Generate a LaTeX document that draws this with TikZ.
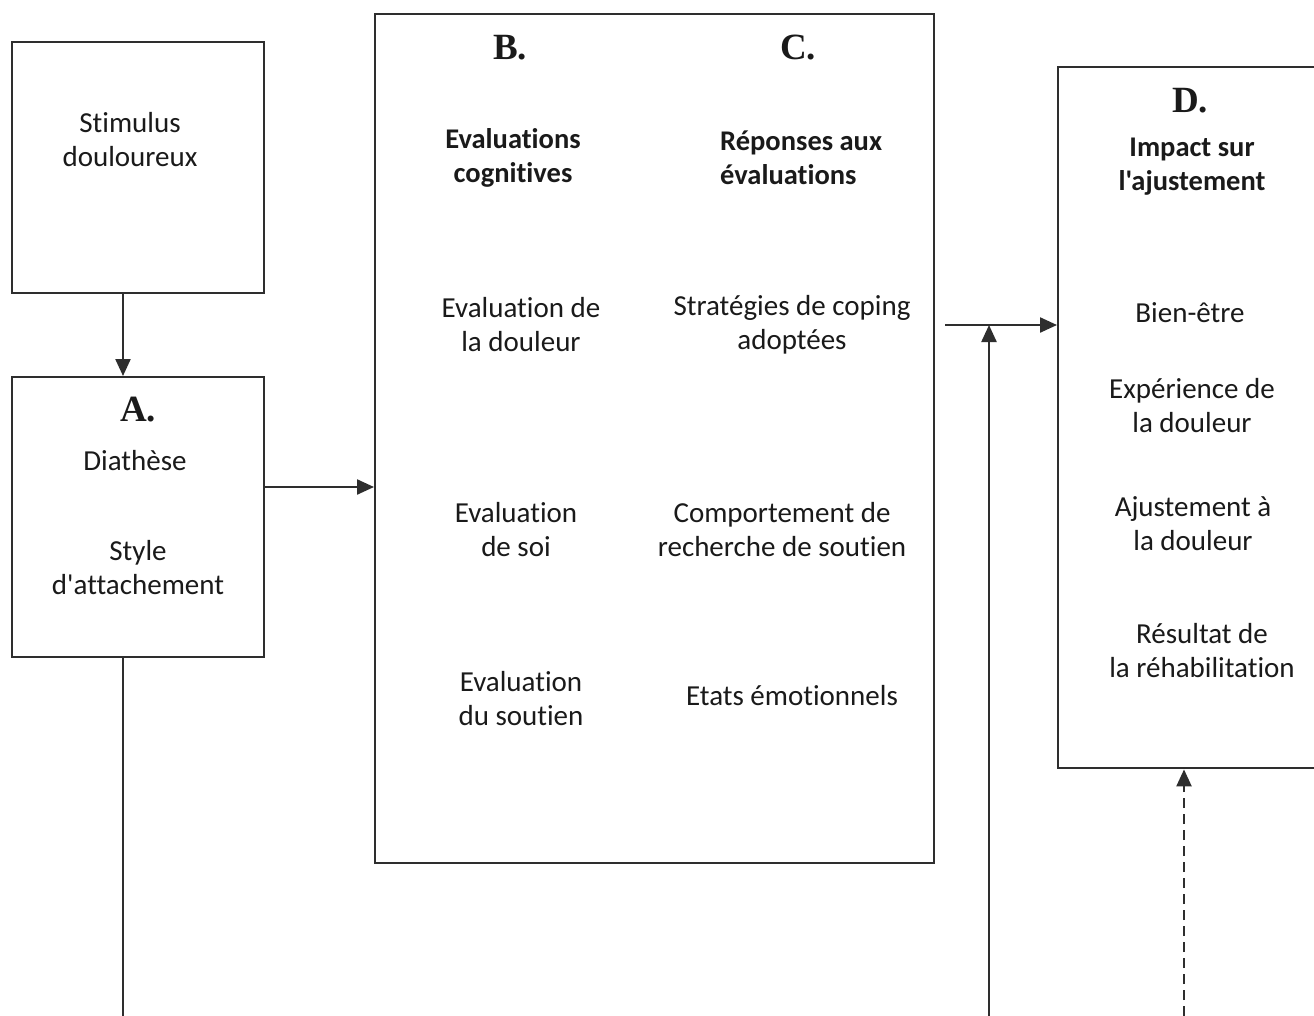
\documentclass[tikz,border=0pt]{standalone}
\usepackage{fontspec}
\setmainfont{Carlito}[Ligatures={NoCommon,TeXOff}]
\newfontfamily\tnr{Liberation Serif}
\usetikzlibrary{arrows.meta}
\definecolor{ln}{HTML}{2E2E2E}
\definecolor{tx}{HTML}{1A1A1A}
\tikzset{
  box/.style={draw=ln, line width=2.4pt, fill=white, inner sep=0pt},
  txt/.style={text=tx, align=center, inner sep=0pt, font=\fontsize{29}{34}\selectfont},
  btxt/.style={txt, font=\fontsize{28.5}{34}\selectfont\bfseries},
  letter/.style={text=tx, inner sep=0pt, font=\tnr\bfseries\fontsize{37}{40}\selectfont},
  conn/.style={draw=ln, line width=2.3pt},
  arr/.style={conn, -{Triangle[length=17pt,width=15pt]}},
  darr/.style={arr, dash pattern=on 10pt off 6pt}
}
\begin{document}
\begin{tikzpicture}[x=1pt,y=-1pt]
\useasboundingbox[fill=white] (0,0) rectangle (1314,1015);

% boxes
\node[box, anchor=north west, minimum width=252, minimum height=251] (stim) at (11,41) {};
\node[box, anchor=north west, minimum width=252, minimum height=280] (A) at (11,376) {};
\node[box, anchor=north west, minimum width=559, minimum height=849] (BC) at (374,13) {};
\node[box, anchor=north west, minimum width=280, minimum height=701] (D) at (1057,66) {};

% helper coordinates
\coordinate (vA) at (123,0);
\coordinate (hA) at (0,487);
\coordinate (hC) at (945,325);
\coordinate (vC) at (989,325);
\coordinate (bA) at (123,1016);
\coordinate (bC) at (989,1016);
\coordinate (bD) at (1184,1016);

% texts
\node[txt] (t1) at (130,140) {Stimulus\\douloureux};
\node[letter] (la) at (138,410) {A.};
\node[txt] (t2) at (135,461) {Diathèse};
\node[txt] (t3) at (138,568) {Style\\d'attachement};

\node[letter] (lb) at (510,48) {B.};
\node[letter] (lc) at (798,48) {C.};
\node[btxt] (hb) at (513,158) {Evaluations\\cognitives};
\node[btxt, align=left, anchor=west] (hc) at (720,158) {Réponses aux\\évaluations};
\node[txt] (b1) at (521,325) {Evaluation de\\la douleur};
\node[txt] (c1) at (792,325) {Stratégies de coping\\adoptées};
\node[txt] (b2) at (516,530) {Evaluation\\de soi};
\node[txt] (c2) at (782,530) {Comportement de\\recherche de soutien};
\node[txt] (b3) at (521,699) {Evaluation\\du soutien};
\node[txt] (c3) at (792,696) {Etats émotionnels};

\node[letter] (ld) at (1190,101) {D.};
\node[btxt] (hd) at (1192,167) {Impact sur\\l'ajustement};
\node[txt] (d1) at (1190,313) {Bien-être};
\node[txt] (d2) at (1192,406) {Expérience de\\la douleur};
\node[txt] (d3) at (1193,524) {Ajustement à\\la douleur};
\node[txt] (d4) at (1202,651) {Résultat de\\la réhabilitation};

% connectors
\draw[arr] (stim.south -| vA) -- (A.north -| vA);
\draw[arr] (A.east |- hA) -- (BC.west |- hA);
\draw[arr] (hC) -- (D.west |- hC);
\draw[arr] (bC) -- (vC);
\draw[conn] (A.south -| vA) -- (bA);
\draw[darr] (bD) -- (D.south -| bD);
\end{tikzpicture}
\end{document}
